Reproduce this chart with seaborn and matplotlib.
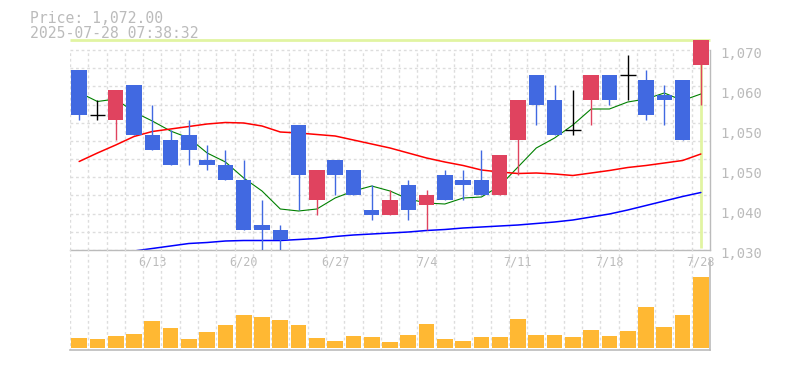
"""Daily candlestick chart with moving averages and volume, saved to out.png."""
import numpy as np
import pandas as pd
import matplotlib.pyplot as plt
import matplotlib.transforms as mtransforms
import seaborn as sns

# ---- data ----
dates = ["6/9", "6/10", "6/11", "6/12", "6/13", "6/16", "6/17", "6/18", "6/19", "6/20",
         "6/23", "6/24", "6/25", "6/26", "6/27", "6/30", "7/1", "7/2", "7/3", "7/4",
         "7/7", "7/8", "7/9", "7/10", "7/11", "7/14", "7/15", "7/16", "7/17", "7/18",
         "7/22", "7/23", "7/24", "7/25", "7/28"]
opens = [1066, 1057, 1056, 1063, 1053, 1052, 1053, 1048, 1047, 1044,
         1035, 1034, 1055, 1040, 1048, 1046, 1038, 1037, 1043, 1039,
         1045, 1044, 1044, 1041, 1052, 1065, 1060, 1054, 1060, 1065,
         1065, 1064, 1061, 1064, 1067]
highs = [1066, 1060, 1062, 1063, 1059, 1054, 1056, 1051, 1050, 1048,
         1040, 1035, 1055, 1046, 1048, 1046, 1043, 1042, 1044, 1042,
         1046, 1046, 1050, 1049, 1060, 1065, 1063, 1062, 1065, 1065,
         1069, 1066, 1063, 1064, 1072]
lows = [1056, 1056, 1052, 1053, 1050, 1047, 1047, 1046, 1044, 1034,
        1029, 1029, 1038, 1037, 1041, 1041, 1036, 1037, 1036, 1034,
        1040, 1040, 1041, 1041, 1045, 1055, 1053, 1053, 1055, 1059,
        1060, 1056, 1055, 1052, 1059]
closes = [1057, 1057, 1062, 1053, 1050, 1047, 1050, 1047, 1044, 1034,
          1034, 1032, 1045, 1046, 1045, 1041, 1037, 1040, 1038, 1041,
          1040, 1043, 1041, 1049, 1060, 1059, 1053, 1054, 1065, 1060,
          1065, 1057, 1060, 1052, 1072]
ma5 = [1061.5, 1059.7, 1060.2, 1057.6, 1055.8, 1053.8, 1052.4, 1049.4, 1047.6, 1044.4,
       1041.8, 1038.2, 1037.8, 1038.2, 1040.4, 1041.8, 1042.8, 1041.8, 1040.2, 1039.4,
       1039.2, 1040.4, 1040.6, 1042.8, 1046.6, 1050.4, 1052.4, 1055.0, 1058.2, 1058.2,
       1059.6, 1060.2, 1061.4, 1059.9, 1061.2]
ma25 = [1047.7, 1049.4, 1051.0, 1052.7, 1053.7, 1054.2, 1054.7, 1055.2, 1055.5, 1055.4,
        1054.8, 1053.6, 1053.4, 1053.1, 1052.8, 1052.0, 1051.2, 1050.4, 1049.4, 1048.4,
        1047.6, 1046.9, 1046.0, 1045.6, 1045.3, 1045.4, 1045.2, 1044.9, 1045.4, 1045.9,
        1046.5, 1046.9, 1047.4, 1047.9, 1049.2]
ma75 = [np.nan, np.nan, np.nan, 1029.8, 1030.3, 1030.8, 1031.3, 1031.5, 1031.8, 1031.9,
        1031.9, 1031.9, 1032.1, 1032.3, 1032.7, 1033.0, 1033.2, 1033.4, 1033.6, 1033.9,
        1034.1, 1034.4, 1034.6, 1034.8, 1035.0, 1035.3, 1035.6, 1036.0, 1036.6, 1037.2,
        1038.0, 1038.9, 1039.8, 1040.7, 1041.5]
volume_k = [29, 26, 35, 41, 80, 59, 26, 47, 68, 98,
            92, 83, 68, 29, 20, 35, 32, 17, 38, 71,
            26, 20, 32, 32, 86, 38, 38, 32, 53, 35,
            50, 122, 62, 98, 212]
last_price = 1072.0
timestamp = "2025-07-28 07:38:32"
price_ticks = [1070, 1062, 1054, 1046, 1038, 1030]
price_labels = ["1,070", "1,060", "1,050", "1,050", "1,040", "1,030"]
date_every = 5

UP = "#e0435f"
DOWN = "#4169e1"
VOL = "#ffb833"
GRID = "#dddddd"
TXT = "#bbbbbb"
CROSS = "#e1f4a2"


def main():
    sns.set_theme(style="white")
    plt.rcParams["font.family"] = ["DejaVu Sans Mono"]

    df = pd.DataFrame({"date": dates, "open": opens, "high": highs, "low": lows,
                       "close": closes, "ma5": ma5, "ma25": ma25, "ma75": ma75,
                       "volume": volume_k})
    df["x"] = np.arange(len(df))
    n = len(df)
    x0, x1 = -0.5, n - 0.5

    W, H = 785, 370
    fig = plt.figure(figsize=(W / 100, H / 100), dpi=100)
    ax = fig.add_axes([70 / W, (H - 250) / H, 640 / W, 210 / H])
    axv = fig.add_axes([70 / W, (H - 350) / H, 640 / W, 100 / H])
    axv.set_facecolor("none")

    # grid
    for gx in np.arange(x0, x1, 1.0):
        ax.vlines(gx, 1030, 1070, color=GRID, lw=1, ls=(0, (2, 2)), zorder=0)
        axv.vlines(gx, -10, 300, color=GRID, lw=1, ls=(0, (2, 2)), zorder=0)
    for gy in np.linspace(1030, 1070, 12):
        ax.hlines(gy, x0, x1, color=GRID, lw=1, ls=(0, (2, 2)), zorder=0)

    # current price crosshair
    ax.hlines(last_price, x0, x1, color=CROSS, lw=2, zorder=1, clip_on=False)
    ax.vlines(n - 1, 1030.4, last_price, color=CROSS, lw=2, zorder=1)

    # moving averages
    sns.lineplot(data=df, x="x", y="ma5", ax=ax, color="green", lw=0.8, zorder=2)
    sns.lineplot(data=df, x="x", y="ma25", ax=ax, color="red", lw=1.1, zorder=2)
    sns.lineplot(data=df, x="x", y="ma75", ax=ax, color="blue", lw=1.1, zorder=2)

    # candles
    for r in df.itertuples():
        if r.close > r.open:
            c = UP
        elif r.close < r.open:
            c = DOWN
        else:
            c = "black"
        ax.vlines(r.x, r.low, r.high, color=c, lw=1, zorder=3)
        if c == "black":
            ax.hlines(r.open, r.x - 0.43, r.x + 0.43, color=c, lw=1, zorder=3)
        else:
            ax.bar(r.x, abs(r.close - r.open), bottom=min(r.open, r.close),
                   width=0.85, color=c, zorder=4, linewidth=0)

    ax.set_xlim(x0, x1)
    ax.set_ylim(1030, 1072)
    ax.set_xlabel("")
    ax.set_ylabel("")
    for s in ["top", "left"]:
        ax.spines[s].set_visible(False)
    ax.spines["right"].set_bounds(1030, 1070)
    for s in ["right", "bottom"]:
        ax.spines[s].set_color(TXT)
        ax.spines[s].set_linewidth(1)
    ax.yaxis.tick_right()
    ax.set_yticks(price_ticks)
    ax.set_yticklabels(price_labels)
    idx = list(range(n - 1, -1, -date_every))[::-1]
    ax.set_xticks(idx)
    ax.set_xticklabels([dates[i] for i in idx])
    ax.tick_params(axis="y", length=0, pad=7.5, labelsize=10, labelcolor=TXT)
    ax.tick_params(axis="x", length=0, pad=4, labelsize=8.5, labelcolor=TXT)
    off = mtransforms.ScaledTranslation(0, -1.9 / 72, fig.dpi_scale_trans)
    for lab in ax.get_yticklabels():
        lab.set_transform(lab.get_transform() + off)

    # volume
    sns.barplot(data=df, x="x", y="volume", ax=axv, color=VOL, saturation=1,
                width=0.86, errorbar=None, native_scale=True, zorder=2, linewidth=0)
    axv.set_xlim(x0, x1)
    axv.set_ylim(-7.5, 292.5)
    axv.set_xticks([])
    axv.set_yticks([])
    axv.set_xlabel("")
    axv.set_ylabel("")
    for s in ["top", "left"]:
        axv.spines[s].set_visible(False)
    axv.spines["right"].set_bounds(-7.5, 262)
    for s in ["right", "bottom"]:
        axv.spines[s].set_color(TXT)
        axv.spines[s].set_linewidth(1.2)

    # header text
    fig.text(30 / W, 1 - 22.7 / H, f"Price: {last_price:,.2f}", color=TXT,
             fontsize=10.6, va="baseline", ha="left")
    fig.text(30 / W, 1 - 38.3 / H, timestamp, color=TXT,
             fontsize=10.6, va="baseline", ha="left")

    fig.savefig("out.png", dpi=100)
    plt.close(fig)


if __name__ == "__main__":
    main()
